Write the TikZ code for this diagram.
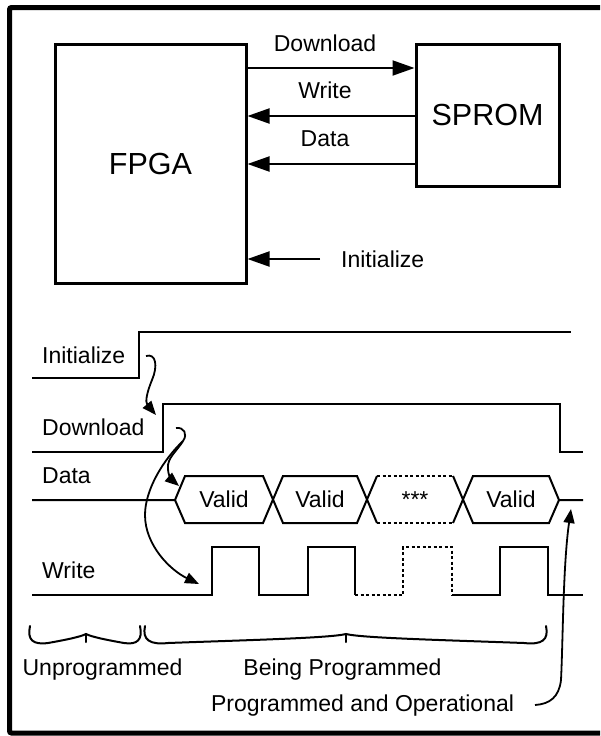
\documentclass[tikz,border=0pt]{standalone}
\usepackage{fontspec}
\setmainfont{Liberation Sans}
\usetikzlibrary{arrows.meta}
\begin{document}
\begin{tikzpicture}[x=1pt,y=-1pt,
  lbl/.style={inner sep=0pt,anchor=base,font=\fontsize{23}{27}\selectfont},
  lblw/.style={lbl,anchor=base west},
  chip/.style={draw,line width=3pt,inner sep=0pt,font=\fontsize{30.5}{34}\selectfont},
  sig/.style={line width=2pt,line join=miter},
  dsh/.style={sig,dash pattern=on 3pt off 2.5pt},
  link/.style={line width=2pt,-{Triangle[length=22pt,width=15pt]}},
  cause/.style={line width=1.8pt,-{Triangle[length=14pt,width=11pt]}},
  brc/.style={line width=2pt,line cap=round}]
\useasboundingbox (0,0) rectangle (600,736);
\clip (0,0) rectangle (600,736);
% frame (right side lies outside the picture)
\draw[line width=5pt,rounded corners=2pt] (640,7.5) -- (9.5,7.5) -- (9.5,733) -- (640,733);

% ---------- block diagram ----------
\node[chip,minimum width=191pt,minimum height=239pt] (FPGA) at (150.5,163.5) {FPGA};
\node[chip,minimum width=143pt,minimum height=142pt] (SPROM) at (487.5,115) {SPROM};
\coordinate (yDL) at (0,68);
\coordinate (yWR) at (0,116);
\coordinate (yDA) at (0,164);
\coordinate (yIN) at (0,259);
\coordinate (initsrc) at (320,259);
\draw[link] (FPGA.east |- yDL) -- (SPROM.west |- yDL);
\draw[link] (SPROM.west |- yWR) -- (FPGA.east |- yWR);
\draw[link] (SPROM.west |- yDA) -- (FPGA.east |- yDA);
\draw[link] (initsrc) -- (FPGA.east |- yIN);
\node[lbl] (tDL) at (325,51) {Download};
\node[lbl] (tWR) at (325,98) {Write};
\node[lbl] (tDA) at (325,146) {Data};
\node[lblw] (tIN) at (341,267) {Initialize};

% ---------- timing diagram ----------
\node[lblw] (sIN) at (42,363) {Initialize};
\node[lblw] (sDL) at (42,435) {Download};
\node[lblw] (sDA) at (42,483) {Data};
\node[lblw] (sWR) at (42,578) {Write};

% Initialize
\draw[sig] (32,378) -- (139,378) -- (139,332) -- (571,332);
% Download
\draw[sig] (32,452) -- (163,452) -- (163,404) -- (560,404) -- (560,452) -- (583,452);
% Data
\draw[sig] (32,500) -- (175,500) -- (185,476) -- (263,476) -- (283,523) -- (357,523) -- (377,476);
\draw[sig] (175,500) -- (185,523) -- (263,523) -- (283,476) -- (357,476) -- (377,523);
\draw[dsh] (377,476) -- (453,476);
\draw[dsh] (377,523) -- (453,523);
\draw[sig] (453,476) -- (473,523) -- (549,523) -- (559,500) -- (583,500);
\draw[sig] (453,523) -- (473,476) -- (549,476) -- (559,500);
\node[lbl] (v1) at (224,507) {Valid};
\node[lbl] (v2) at (320,507) {Valid};
\node[lbl] (v3) at (415,507) {***};
\node[lbl] (v4) at (511,507) {Valid};
% Write
\draw[sig] (32,595) -- (212,595) -- (212,547) -- (259,547) -- (259,595) -- (308,595) -- (308,547) -- (355,547) -- (355,595);
\draw[dsh] (355,595) -- (403,595) -- (403,547) -- (452,547) -- (452,595);
\draw[sig] (452,595) -- (500,595) -- (500,547) -- (548,547) -- (548,595) -- (583,595);

% cause arrows
\coordinate (c1s) at (146,356);
\coordinate (c1e) at (156,415);
\draw[cause] (c1s) .. controls (156,353) and (158,366) .. (152,380) .. controls (147,392) and (145,402) .. (c1e);
\coordinate (c2s) at (176,428);
\coordinate (c2m) at (183,441);
\coordinate (c2e) at (179,486);
\coordinate (c3e) at (199,584);
\draw[line width=1.8pt] (c2s) .. controls (184,427) and (188,434) .. (c2m);
\draw[cause] (c2m) .. controls (177,451) and (167,458) .. (168,468) .. controls (168,476) and (172,480) .. (c2e);
\draw[cause] (c2m) .. controls (163,460) and (145,490) .. (145,515) .. controls (145,545) and (170,570) .. (c3e);
\coordinate (c4s) at (535,705);
\coordinate (c4e) at (571,509);
\draw[cause] (c4s) .. controls (550,704) and (559,697) .. (561,680) .. controls (563,640) and (563,565) .. (c4e);

% braces
\draw[brc] (30,626) .. controls (27,640) and (33,645) .. (48,643) .. controls (65,640) and (80,637) .. (86,634)
  .. controls (92,637) and (107,640) .. (124,643) .. controls (137,645) and (143,640) .. (140,626);
\draw[brc] (86,634) -- (86,642);
\draw[brc] (145,626) .. controls (142,640) and (150,645) .. (168,643) .. controls (250,640) and (330,638) .. (346,634)
  .. controls (362,638) and (442,640) .. (524,643) .. controls (542,645) and (549,640) .. (546,626);
\draw[brc] (346,634) -- (346,642);

\node[lbl] (uP) at (102.5,675) {Unprogrammed};
\node[lbl] (bP) at (342.5,675) {Being Programmed};
\node[lbl] (pO) at (362.5,711) {Programmed and Operational};
\end{tikzpicture}
\end{document}
